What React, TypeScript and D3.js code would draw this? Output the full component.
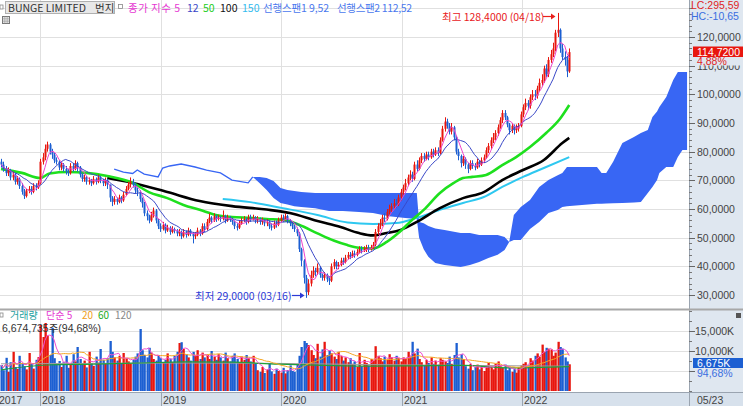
import * as d3 from "d3";

// weekly bars, first bar = week of 2017-09-04, last = 2022-05-23
const START = new Date(2017, 8, 4);
const LAST_WEEK = 297; // cloud is drawn 52 weeks ahead

const firstOpen = 76.5;
const closes = [
  75.5, 74, 72.5, 73.5, 71, 72, 69.5, 70.5, 68, 66,
  64.5, 66.5, 67, 66, 68, 67.5, 69, 76.5, 78, 81,
  82.5, 80, 79, 77, 76.5, 74.5, 75.5, 74, 73, 72.5,
  75, 74, 76, 74.5, 72, 70.5, 71, 69.5, 70, 69,
  70.5, 69.5, 71, 70, 69, 70, 68.5, 64, 62.5, 63.5,
  62.5, 64, 63, 65, 67, 68.5, 69.5, 68.5, 66.5, 66,
  63.5, 62, 58.5, 57.5, 56, 58, 59.5, 56, 54, 53,
  54.5, 52.5, 53.5, 52, 53, 52.5, 51.5, 52, 50.5, 52,
  51, 52.5, 51.5, 50.5, 51, 52.5, 51.5, 54, 53, 55.5,
  57, 56, 57.5, 56.5, 57, 56.5, 57.5, 56, 57, 56.5,
  55.5, 54, 53.5, 55, 56, 56.5, 55.5, 57, 56.5, 57,
  56, 56.5, 55.5, 56, 55, 55.5, 54, 53.5, 55, 54.5,
  56, 57, 56.5, 57.5, 56, 55, 54, 53, 51.5, 46,
  42, 36, 31, 34, 37, 38.5, 38, 39.5, 37, 36,
  37, 35.5, 35, 40, 41.5, 40, 40.5, 42, 41.5, 43,
  44, 43.5, 44.5, 44, 45, 46, 45.5, 46, 46.5, 46,
  46.5, 47.5, 52, 54, 55, 57, 56.5, 59, 60, 61,
  62, 61.5, 64, 66, 67.5, 69, 71, 72, 70.5, 75.5,
  74, 77, 78.5, 77.5, 79, 78, 80, 79, 80.5, 79.5,
  84, 88, 90.5, 89, 87, 88.5, 85, 80, 78.5, 76,
  77.5, 75.5, 74, 76, 75, 74.5, 76.5, 75.5, 77, 78,
  80.5, 82, 84, 85, 86.5, 88.5, 91, 93.5, 92, 89.5,
  87.5, 89, 87.5, 88, 89, 93, 95.5, 97, 96, 99,
  100, 99.5, 102, 104, 105, 109, 107, 112, 114, 116,
  121.5, 122.5, 116, 113, 112, 108, 114.72,
];
const highs = [
  77.5, 76.5, 75, 74.5, 74, 73, 72.5, 71.5, 71, 69,
  67, 67, 68, 68, 69, 69, 70, 77.5, 79.5, 82.5,
  83.5, 83, 81, 79.5, 78, 77, 76.5, 76, 75, 74,
  76, 76, 77, 76.5, 75, 72.5, 72, 71.5, 71, 70.5,
  71.5, 71, 72, 71.5, 70.5, 71, 70.5, 68.5, 64.5, 64.5,
  64, 65, 64.5, 66, 68, 69.5, 71, 70.5, 69, 67.5,
  66.5, 64, 62.5, 59.5, 58, 59, 60.5, 60, 56.5, 55,
  55.5, 55, 54.5, 54, 54, 53.5, 53, 53, 52.5, 53,
  52.5, 53.5, 53, 52, 52, 53.5, 53, 55, 55, 56.5,
  58.5, 57.5, 58.5, 58, 58, 57.5, 59.5, 58, 58, 57.5,
  57, 56, 55, 56, 57, 57.5, 57, 58, 58, 58,
  57.5, 57.5, 57, 57, 56.5, 56.5, 56, 55, 56, 56,
  57, 58, 58, 58.5, 58, 56.5, 55.5, 54.5, 53.5, 52,
  46.5, 42.5, 37, 35.5, 38.5, 40, 39.5, 41, 40, 37.5,
  38, 37.5, 36.5, 41, 42.5, 42, 41.5, 43, 43, 44,
  45, 45, 45.5, 45.5, 46, 47, 47, 47, 47.5, 47.5,
  47.5, 48.5, 53, 55, 56.5, 58, 58.5, 60, 61.5, 62,
  63.5, 63.5, 65, 67, 68.5, 70.5, 72, 73.5, 73, 76.5,
  77, 78, 79.5, 79.5, 80, 80, 81, 81, 81.5, 81.5,
  85, 89, 92, 91.5, 90, 90, 89, 85.5, 81, 79,
  78.5, 78, 76, 77, 77, 76, 77.5, 77, 78, 79,
  81.5, 83, 85, 86.5, 87.5, 89.5, 92, 94.5, 94.5, 92.5,
  90, 90, 89.5, 89.5, 90, 94, 96.5, 98.5, 98, 100,
  101.5, 101.5, 103, 105.5, 107, 110, 110.5, 113, 115.5, 118,
  122.5, 128.4, 123, 117.5, 115, 113, 116,
];
const lows = [
  74.5, 73, 71.5, 71.5, 70, 70, 68.5, 68.5, 67, 65,
  63.5, 64, 65.5, 65, 65.5, 66.5, 67, 68.5, 75.5, 77,
  80, 79, 77.5, 76, 75.5, 73.5, 73.5, 73, 72, 71.5,
  72, 73, 73.5, 73, 71, 69.5, 69.5, 68.5, 68.5, 68,
  68.5, 68.5, 69, 69, 68, 68, 67, 62.5, 61, 61.5,
  61.5, 62, 62, 62.5, 64.5, 66.5, 67.5, 67.5, 65.5, 64.5,
  62.5, 60.5, 57.5, 56, 55, 55.5, 57, 55, 53, 52,
  52.5, 51.5, 52, 51, 51.5, 51.5, 50.5, 50.5, 49.5, 50,
  50, 50.5, 50.5, 48, 49.5, 50.5, 50.5, 51, 52, 52.5,
  55, 55, 55.5, 55.5, 56, 55.5, 56, 55, 55.5, 55.5,
  54.5, 53, 52.5, 53, 54.5, 55.5, 54.5, 55, 55.5, 56,
  55, 55, 54.5, 54.5, 54, 54, 53, 52.5, 53, 53.5,
  54, 55.5, 55.5, 56, 55, 54, 53, 52, 50.5, 45,
  40, 34, 29, 30, 33, 36, 36.5, 37, 36, 35,
  35, 34.5, 33.5, 34.5, 39, 39, 39, 40, 40.5, 41,
  42.5, 42.5, 43, 43, 43.5, 44.5, 44.5, 45, 45, 45,
  45.5, 46, 47, 51, 53, 54, 55.5, 56, 58, 59,
  60, 60.5, 61, 63, 65, 66.5, 68, 70, 69.5, 70,
  73, 73.5, 76, 76.5, 77, 77, 77.5, 78, 78.5, 78.5,
  79, 83.5, 87, 88, 86, 86, 84, 79, 77, 74.5,
  75, 74, 72.5, 73.5, 74, 73.5, 74, 74.5, 75, 76,
  77.5, 79.5, 81, 83, 84, 85.5, 88, 90, 91, 88.5,
  86, 86.5, 86, 86.5, 87, 88.5, 92, 94.5, 94.5, 95,
  98, 98, 98.5, 101, 103, 104, 106, 106, 111, 113,
  115, 120, 114.5, 112, 110, 106, 107.5,
];
// weekly volume, thousands of shares
const volumes = [
  6500, 5200, 8300, 4800, 7200, 9800, 6000, 5500, 8800, 7000,
  6200, 5400, 9500, 6800, 5600, 7800, 8500, 16500, 13500, 17000,
  13800, 9000, 15800, 8200, 6900, 7500, 6000, 7200, 8800, 5800,
  6500, 9200, 7400, 11000, 8000, 6700, 7600, 5900, 9800, 7000,
  6300, 8600, 7100, 10500, 7800, 6800, 8200, 12500, 9800, 8400,
  7600, 8800, 7000, 9500, 8200, 7400, 6900, 7800, 8600, 9400,
  15500, 10200, 9000, 8400, 10800, 9600, 8000, 7600, 9000, 8200,
  7000, 7800, 9400, 8100, 7200, 8800, 9800, 12000, 12200, 10500,
  9200, 8400, 7600, 9800, 8800, 10200, 8000, 9600, 8400, 9000,
  8000, 10000, 8600, 7800, 9200, 8400, 7600, 9600, 8200, 7400,
  8800, 9400, 8000, 7200, 8600, 7800, 9000, 8200, 7400, 8800,
  7000, 5200, 4800, 6000, 4500, 5400, 7000, 4900, 4300, 5600,
  5000, 4600, 5800, 4400, 5200, 6400, 5000, 4800, 6600, 8800,
  11000, 12500, 12000, 11500, 10200, 9000, 8200, 11800, 8600, 10400,
  12300, 9000, 10000, 9400, 8600, 8000, 9800, 8800, 7600, 8400,
  7200, 8200, 6800, 7400, 6000, 9500, 6200, 7800, 7000, 6400,
  8000, 7600, 11200, 8800, 8200, 7400, 8600, 7800, 9200, 8400,
  7600, 8800, 8200, 7400, 8400, 8000, 9800, 8600, 12300, 9400,
  10600, 8000, 7200, 6400, 7800, 7000, 8400, 6800, 7600, 6600,
  8200, 7800, 7400, 7000, 8600, 6800, 9000, 12000, 8400, 9200,
  8000, 6200, 5600, 6800, 5200, 6000, 6600, 5400, 6200, 5000,
  6400, 7000, 6000, 5400, 6800, 7400, 6200, 5800, 6600, 5200,
  6000, 4800, 5600, 4600, 5800, 6400, 6800, 7200, 6400, 8200,
  7600, 8800, 9400, 8600, 11600, 9800, 10800, 10600, 10400, 8800,
  9600, 12300, 11000, 10600, 8400, 7400, 6675,
];

// long moving averages (need history before the visible window)
const ma50Idx = [0, 9, 17, 21, 29, 37, 46, 57, 64, 72, 79, 86, 93, 100, 108, 115, 122, 129, 137, 144, 150, 155, 161, 167, 172, 178, 183, 190, 196, 200, 204, 210, 217, 223, 229, 236, 242, 246];
const ma50Val = [74.0, 72.6, 70.8, 72.4, 72.9, 72.6, 71.5, 69.1, 65.9, 63.8, 61.4, 59.7, 57.9, 57.2, 56.9, 56.5, 56.2, 54.5, 51.5, 49.0, 47.4, 46.5, 46.2, 48.5, 51.6, 56.2, 59.7, 65.6, 69.1, 70.8, 71.2, 71.9, 75.3, 78.1, 81.6, 86.5, 91.5, 96.3];
const ma100Idx = [46, 57, 72, 86, 100, 115, 125, 137, 147, 155, 161, 167, 173, 180, 190, 200, 209, 217, 226, 235, 243, 246];
const ma100Val = [70.8, 69.1, 65.9, 62.8, 61.0, 59.8, 58.6, 55.8, 53.7, 51.6, 50.8, 51.6, 52.7, 55.5, 60.3, 63.8, 65.9, 70.1, 73.6, 77.1, 83.0, 84.8];
const ma150Idx = [96, 108, 122, 137, 150, 161, 171, 180, 190, 200, 209, 217, 226, 235, 246];
const ma150Val = [63.5, 62.4, 60.3, 57.9, 55.3, 54.8, 55.1, 56.9, 59.7, 62.1, 64.2, 67.7, 71.2, 74.3, 78.1];

// ichimoku lead spans (shifted 52 weeks)
const spanLeadIdx = [49, 53, 57, 59, 62, 68, 70, 73, 78, 84, 89, 95, 100, 107, 109];
const spanLeadVal = [73.95, 72.9, 72.4, 73.6, 72.2, 71.2, 74.3, 75.0, 75.7, 74.65, 73.6, 72.6, 70.1, 69.1, 71.2];
const cloudIdx = [109, 112, 115, 118, 121, 124, 127, 130, 136, 142, 148, 155, 161, 168, 175, 180, 181, 183, 185, 188, 192, 199, 203, 207, 211, 215, 218, 220, 222, 225, 229, 233, 237, 241, 243, 245, 258, 260, 262, 265, 269, 274, 277, 280, 282, 284, 285, 288, 291, 293, 295, 297];
const span1Val = [71.2, 69.0, 66.6, 63.8, 62.1, 61.6, 61.0, 60.7, 60.3, 59.3, 59.3, 58.95, 58.6, 57.5, 56.9, 56.5, 50.0, 46.0, 43.3, 41.2, 40.5, 39.8, 40.5, 41.5, 42.9, 44.0, 45.7, 48.5, 57.9, 60.7, 63.1, 67.7, 70.1, 71.8, 72.6, 74.65, 74.65, 72.6, 72.6, 76.5, 83.0, 85.1, 86.5, 87.6, 92.1, 94.0, 95.6, 99.1, 105.0, 107.8, 107.8, 107.8];
const span2Val = [71.2, 71.2, 70.8, 69.8, 67.3, 66.6, 66.3, 65.9, 65.6, 65.6, 65.6, 65.6, 65.6, 65.6, 65.6, 65.6, 55.5, 55.0, 54.1, 53.2, 52.7, 51.6, 51.6, 50.9, 50.9, 50.9, 50.2, 48.5, 49.2, 49.2, 53.0, 55.5, 58.6, 59.65, 60.7, 61.0, 61.8, 61.8, 61.9, 62.0, 62.1, 62.3, 62.4, 65.6, 67.7, 70.1, 72.6, 74.65, 74.65, 78.1, 80.6, 80.6];

// volume moving averages 60 / 120
const vol60Idx = [0, 20, 40, 60, 80, 100, 120, 140, 160, 180, 200, 220, 246];
const vol60Val = [5300, 6500, 6700, 7000, 7300, 7200, 6700, 6400, 6200, 6300, 6400, 5800, 6100];
const vol120Idx = [0, 40, 80, 120, 160, 200, 246];
const vol120Val = [6800, 6900, 7000, 6900, 6600, 6400, 6200];

const priceGrid = [30, 40, 50, 60, 70, 80, 90, 100, 110, 120, 130];
const priceLabels = [30, 40, 50, 60, 70, 80, 90, 100, 110, 120];
const volGrid = [5000, 10000, 15000];
const volLabels = [10000, 15000];
const years = [2018, 2019, 2020, 2021, 2022];

const KR = '"Noto Sans CJK KR", "Noto Sans", sans-serif';
const NUM = '"Liberation Sans", Arial, "Noto Sans CJK KR", sans-serif';
const RED = "#e8160e";
const BLUE = "#1c5fd2";
const CLOUD = "#3866f4";
const PANEL = "#dfe7f0";
const STRIP = "#d7e1ec";

function rolling(arr: number[], n: number) {
  return arr.map((_, i) => d3.mean(arr.slice(Math.max(0, i - n + 1), i + 1)) as number);
}

export default function App() {
  const W = 743;
  const H = 406;
  const right = 689;

  const x = d3
    .scaleTime()
    .domain([START, d3.timeWeek.offset(START, LAST_WEEK)])
    .range([1, 1 + LAST_WEEK * 2.31]);
  const xi = (i: number) => x(d3.timeWeek.offset(START, i));
  const y = d3.scaleLinear().domain([30, 120]).range([295, 37]);
  const yv = d3.scaleLinear().domain([0, 15000]).range([391, 331]);

  const opens = closes.map((_, i) => (i === 0 ? firstOpen : closes[i - 1]));

  const ma5 = rolling(closes, 5);
  const ma12 = rolling(closes, 12);
  const vma5 = rolling(volumes, 5);
  const vma20 = rolling(volumes, 20);

  const idxLine = (ys: (v: number) => number, curve = d3.curveMonotoneX) =>
    d3
      .line<[number, number]>()
      .x((d) => xi(d[0]))
      .y((d) => ys(d[1]))
      .curve(curve);
  const pairs = (idx: number[], vals: number[]) => idx.map((d, k) => [d, vals[k]] as [number, number]);
  const seq = (vals: number[]) => vals.map((v, i) => [i, v] as [number, number]);

  const cloudArea = d3
    .area<number>()
    .x((k) => xi(cloudIdx[k]))
    .y0((k) => y(span1Val[k]))
    .y1((k) => y(span2Val[k]));

  const priceLine = idxLine(y);
  const thinLine = idxLine(y, d3.curveLinear);
  const volLine = idxLine(yv);
  const volThin = idxLine(yv, d3.curveLinear);

  const minorPrice = d3.range(30, 131, 2);
  const minorVol = d3.range(0, 20001, 2500);

  return (
    <svg width={W} height={H} style={{ position: "absolute", left: 0, top: 0, background: "#fff" }} fontFamily={KR}>
      <defs>
        <clipPath id="pc">
          <rect x={0} y={0} width={right} height={308} />
        </clipPath>
        <clipPath id="vc">
          <rect x={0} y={311} width={right} height={81} />
        </clipPath>
      </defs>

      {/* grid */}
      {priceGrid.map((v) => (
        <line key={"g" + v} x1={0} x2={right} y1={Math.round(y(v)) + 0.5} y2={Math.round(y(v)) + 0.5} stroke="#e0e0e0" />
      ))}
      {volGrid.map((v) => (
        <line key={"vg" + v} x1={0} x2={right} y1={Math.round(yv(v)) + 0.5} y2={Math.round(yv(v)) + 0.5} stroke="#e0e0e0" />
      ))}
      {years.map((yr) => {
        const gx = Math.round(x(new Date(yr, 0, 1))) + 0.5;
        return <line key={"yg" + yr} x1={gx} x2={gx} y1={0} y2={392} stroke="#e0e0e0" />;
      })}

      {/* price panel */}
      <g clipPath="url(#pc)">
        <path d={cloudArea(d3.range(cloudIdx.length)) ?? ""} fill={CLOUD} />
        <path d={thinLine(pairs(spanLeadIdx, spanLeadVal)) ?? ""} fill="none" stroke={CLOUD} strokeWidth={1.3} />
        <path d={priceLine(pairs(ma150Idx, ma150Val)) ?? ""} fill="none" stroke="#2ec8f0" strokeWidth={2} />
        <path d={priceLine(pairs(ma100Idx, ma100Val)) ?? ""} fill="none" stroke="#000" strokeWidth={2.6} />
        <path d={priceLine(pairs(ma50Idx, ma50Val)) ?? ""} fill="none" stroke="#1ee01e" strokeWidth={2.6} />
        {closes.map((c, i) => {
          const o = opens[i];
          const col = c >= o ? RED : BLUE;
          const cx = Math.round(xi(i));
          const top = y(Math.max(o, c));
          const h = Math.max(1, y(Math.min(o, c)) - top);
          return (
            <g key={"c" + i}>
              <line x1={cx + 0.5} x2={cx + 0.5} y1={y(highs[i])} y2={y(lows[i])} stroke={col} />
              <rect x={cx - 0.5} y={top} width={2} height={h} fill={col} />
            </g>
          );
        })}
        <path d={thinLine(seq(ma12)) ?? ""} fill="none" stroke="#3a48c8" strokeWidth={1} />
        <path d={thinLine(seq(ma5)) ?? ""} fill="none" stroke="#ee44cc" strokeWidth={1} />
      </g>

      {/* volume panel */}
      <g clipPath="url(#vc)">
        {volumes.map((v, i) => {
          const col = closes[i] >= opens[i] ? RED : BLUE;
          const cx = Math.round(xi(i));
          return <rect key={"v" + i} x={cx - 0.5} y={yv(v)} width={2.3} height={yv(0) - yv(v)} fill={col} />;
        })}
        <path d={volLine(pairs(vol120Idx, vol120Val)) ?? ""} fill="none" stroke="#a0a0a0" strokeWidth={1} />
        <path d={volLine(pairs(vol60Idx, vol60Val)) ?? ""} fill="none" stroke="#1fa03a" strokeWidth={1.2} />
        <path d={volThin(seq(vma20)) ?? ""} fill="none" stroke="#f5a623" strokeWidth={1} />
        <path d={volThin(seq(vma5)) ?? ""} fill="none" stroke="#f050d0" strokeWidth={1} />
      </g>

      {/* annotations */}
      <text x={442} y={20.5} fontSize={10.5} fill="#e8201c">최고 128,4000 (04/18)</text>
      <line x1={543} x2={551} y1={16.5} y2={16.5} stroke="#e8201c" strokeWidth={1.2} />
      <path d="M551,13.5 L555.5,16.5 L551,19.5 Z" fill="#e8201c" />
      <text x={195} y={299.5} fontSize={10.5} fill="#2c3ad6">최저 29,0000 (03/16)</text>
      <line x1={292} x2={300} y1={295.5} y2={295.5} stroke="#2c3ad6" strokeWidth={1.2} />
      <path d="M300,292.5 L304.5,295.5 L300,298.5 Z" fill="#2c3ad6" />

      {/* header */}
      <rect x={0} y={5} width={3} height={4} fill="#fff" stroke="#888" strokeWidth={0.8} />
      <rect x={5.5} y={1.5} width={109} height={12} fill="#e8e8e8" stroke="#b0b0b0" />
      <text x={8} y={11.5} fontSize={10.5} fill="#333">BUNGE LIMITED</text>
      <text x={95} y={11.5} fontSize={10.5} fill="#333">번지</text>
      <rect x={118.5} y={4.5} width={4} height={4} fill="#fff" stroke="#888" strokeWidth={0.8} />
      <text x={128} y={11.5} fontSize={10.5} fill="#e639d2" textLength={52} lengthAdjust="spacing">종가 지수 5</text>
      <text x={187} y={11.5} fontSize={10.5} fill="#3a48c8">12</text>
      <text x={203} y={11.5} fontSize={10.5} fill="#22cc22">50</text>
      <text x={220} y={11.5} fontSize={10.5} fill="#111">100</text>
      <text x={242} y={11.5} fontSize={10.5} fill="#33bbee">150</text>
      <text x={263} y={11.5} fontSize={10.5} fill="#4a78ee" textLength={66} lengthAdjust="spacing">선행스팬1 9,52</text>
      <text x={337} y={11.5} fontSize={10.5} fill="#4a78ee" textLength={75} lengthAdjust="spacing">선행스팬2 112,52</text>
      <rect x={2.5} y={16.5} width={7} height={7} fill="#e4e4e4" stroke="#777" />
      <path d="M4.8,16.5 V23.5 M7.2,16.5 V23.5 M2.5,18.8 H9.5 M2.5,21.2 H9.5" stroke="#999" strokeWidth={0.6} />

      {/* volume header */}
      <rect x={0} y={313} width={3} height={4} fill="#fff" stroke="#888" strokeWidth={0.8} />
      <g fontSize={10}>
        <text x={10} y={319} fill="#22a0a0">거래량</text>
        <text x={46} y={319} fill="#e639d2">단순 5</text>
        <text x={82} y={319} fill="#f0a020">20</text>
        <text x={98} y={319} fill="#22aa22">60</text>
        <text x={115} y={319} fill="#888">120</text>
      </g>
      <text x={2} y={331.5} fontSize={10.5} fontFamily={NUM} fill="#333">6,674,735주(94,68%)</text>

      {/* right axis panel */}
      <rect x={right} y={0} width={W - right} height={392} fill={PANEL} />
      <line x1={right + 0.5} x2={right + 0.5} y1={0} y2={H} stroke="#9aa4b0" />
      <g fontFamily={NUM} fontSize={10.5}>
        {minorPrice.map((v) => (
          <line key={"mt" + v} x1={right} x2={right + 3} y1={Math.round(y(v)) + 0.5} y2={Math.round(y(v)) + 0.5} stroke="#777" />
        ))}
        {priceLabels.map((v) => (
          <g key={"pl" + v}>
            <line x1={right} x2={right + 6} y1={Math.round(y(v)) + 0.5} y2={Math.round(y(v)) + 0.5} stroke="#666" />
            <text x={697} y={y(v) + 4} fill="#444">{`${v},0000`}</text>
          </g>
        ))}
        <text x={691} y={8.5} fill="#e02424">LC:295,59</text>
        <text x={691} y={19.5} fill="#3a6ee0">HC:-10,65</text>
        <rect x={693} y={46.5} width={50} height={10.5} fill={RED} />
        <text x={697} y={55.5} fill="#fff">114,7200</text>
        <rect x={693} y={57} width={50} height={8.5} fill={PANEL} />
        <text x={697} y={65} fill="#e02424">4,88%</text>

        {minorVol.map((v) => (
          <line key={"vt" + v} x1={right} x2={right + 3} y1={Math.round(yv(v)) + 0.5} y2={Math.round(yv(v)) + 0.5} stroke="#777" />
        ))}
        {volGrid.map((v) => (
          <line key={"vm" + v} x1={right} x2={right + 6} y1={Math.round(yv(v)) + 0.5} y2={Math.round(yv(v)) + 0.5} stroke="#666" />
        ))}
        {volLabels.map((v) => (
          <text key={"vl" + v} x={695} y={yv(v) + 4} fill="#444">{`${d3.format(",")(v)}K`}</text>
        ))}
        <rect x={693} y={358} width={50} height={10} fill={BLUE} />
        <text x={697} y={366.5} fill="#fff">6,675K</text>
        <text x={697} y={377} fill="#3a6ee0">94,68%</text>
      </g>
      <rect x={736} y={313} width={5} height={5} fill="#555" />

      {/* panel divider */}
      <line x1={0} x2={W} y1={309.5} y2={309.5} stroke="#a8a8a8" strokeWidth={2} />

      {/* bottom date strip */}
      <rect x={0} y={392} width={W} height={H - 392} fill={STRIP} />
      <line x1={0} x2={W} y1={392.5} y2={392.5} stroke="#9aa4b0" />
      <line x1={right + 0.5} x2={right + 0.5} y1={392} y2={H} stroke="#9aa4b0" />
      <g fontFamily={NUM} fontSize={10.5} fill="#444">
        <text x={-1} y={403.5}>2017</text>
        {years.map((yr) => {
          const gx = Math.round(x(new Date(yr, 0, 1))) + 0.5;
          return (
            <g key={"yl" + yr}>
              <line x1={gx} x2={gx} y1={392} y2={H} stroke="#9aa4b0" />
              <text x={gx + 1.5} y={403.5}>{yr}</text>
            </g>
          );
        })}
        <text x={697} y={404}>05/23</text>
      </g>
    </svg>
  );
}
